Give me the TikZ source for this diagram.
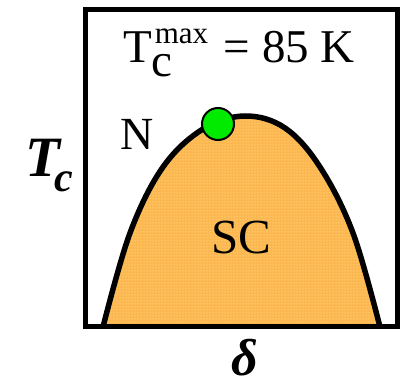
\documentclass[tikz,border=0pt]{standalone}
\usepackage{fontspec}
\setmainfont{Liberation Serif}
\usetikzlibrary{patterns}
\definecolor{scorange}{RGB}{252,184,78}
\definecolor{speck}{RGB}{255,232,190}
\definecolor{dotgreen}{RGB}{0,235,0}
\tikzset{
  frame/.style={line width=5pt},
  dome/.style={line width=5.5pt, line join=round},
  lbl/.style={inner sep=0pt, anchor=base west},
  peakdot/.style={circle, fill=dotgreen, draw=black, line width=2pt, minimum size=32pt, inner sep=0pt}
}
\begin{document}
\begin{tikzpicture}[x=1pt,y=-1pt]
\useasboundingbox (0,0) rectangle (402,382);
\def\domepts{(103,327) (130,233) (163,167) (203,129) (245,116) (285,128) (320,167) (353,233) (380,327)}
\fill[scorange] plot[smooth, tension=0.6] coordinates {\domepts} -- cycle;
\fill[pattern=dots, pattern color=speck] plot[smooth, tension=0.6] coordinates {\domepts} -- cycle;
\draw[dome] plot[smooth, tension=0.6] coordinates {\domepts};
\draw[frame] (85,9.5) rectangle (397,327);
\node[peakdot] (peak) at (218,124) {};
\node[inner sep=0pt, anchor=base, font=\fontsize{47}{47}\selectfont] (title) at (239,63)
  {T\rlap{\raisebox{-14pt}{c}}\kern3pt\raisebox{19pt}{\fontsize{31}{31}\selectfont max}\kern4pt{} = 85 K};
\node[lbl, font=\fontsize{46}{46}\selectfont] (normal) at (120,150) {N};
\node[lbl, font=\fontsize{49}{49}\selectfont] (sc) at (211,254) {SC};
\node[lbl, font=\fontsize{57}{57}\selectfont\bfseries\itshape] (tc) at (25,177)
  {T\kern-6pt\raisebox{-15pt}{\fontsize{42}{42}\selectfont c}};
\node[inner sep=0pt, anchor=base, font=\fontsize{52}{52}\selectfont\bfseries\itshape] (delta) at (245,375) {δ};
\end{tikzpicture}
\end{document}
